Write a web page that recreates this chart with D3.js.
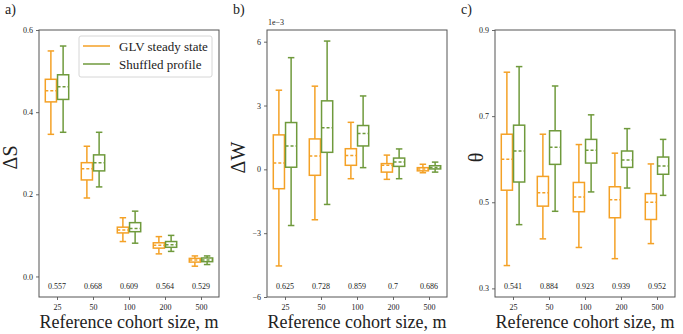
<!DOCTYPE html>
<html>
<head>
<meta charset="utf-8">
<script src="https://cdn.jsdelivr.net/npm/d3@7"></script>
<style>
  body { margin: 0; background: #fff; }
  text { font-family: "Liberation Serif", "DejaVu Serif", serif; fill: #222; }
</style>
</head>
<body>
<script>
// Categories and colours
const cohortSizes = ['25', '50', '100', '200', '500'];
const seriesNames = ['GLV steady state', 'Shuffled profile'];
const colors = ['#F4A126', '#6F9A3C'];

// Box stats per cohort size: [whiskerLow, q1, median, q3, whiskerHigh]
const dsSteady = [
    [0.346, 0.425, 0.452, 0.480, 0.549],
    [0.191, 0.235, 0.262, 0.277, 0.317],
    [0.085, 0.106, 0.113, 0.120, 0.143],
    [0.055, 0.069, 0.076, 0.082, 0.097],
    [0.025, 0.035, 0.040, 0.044, 0.050]
];
const dsShuffled = [
    [0.351, 0.431, 0.462, 0.491, 0.561],
    [0.218, 0.257, 0.277, 0.296, 0.351],
    [0.081, 0.109, 0.117, 0.131, 0.159],
    [0.061, 0.071, 0.077, 0.085, 0.100],
    [0.029, 0.036, 0.040, 0.045, 0.050]
];
// ΔW values in units of 1e-3
const dwSteady = [
    [-4.54, -0.91, 0.30, 1.62, 3.72],
    [-2.37, -0.28, 0.63, 1.43, 3.91],
    [-0.44, 0.19, 0.65, 0.97, 2.21],
    [-0.47, -0.13, 0.19, 0.27, 0.67],
    [-0.16, -0.07, 0.02, 0.08, 0.24]
];
const dwShuffled = [
    [-2.64, 0.10, 1.10, 2.20, 5.25],
    [-1.65, 0.80, 1.96, 3.22, 6.03],
    [0.08, 1.10, 1.68, 2.06, 3.45],
    [-0.44, 0.14, 0.34, 0.53, 0.96],
    [-0.13, 0.02, 0.09, 0.17, 0.34]
];
const thetaSteady = [
    [0.353, 0.528, 0.600, 0.658, 0.802],
    [0.415, 0.491, 0.522, 0.560, 0.658],
    [0.395, 0.478, 0.512, 0.546, 0.634],
    [0.369, 0.464, 0.506, 0.536, 0.614],
    [0.404, 0.460, 0.500, 0.520, 0.589]
];
const thetaShuffled = [
    [0.448, 0.547, 0.619, 0.679, 0.815],
    [0.479, 0.588, 0.628, 0.666, 0.770],
    [0.524, 0.591, 0.621, 0.646, 0.703],
    [0.533, 0.581, 0.598, 0.619, 0.671],
    [0.516, 0.565, 0.584, 0.605, 0.646]
];

// Numbers printed along the bottom of each panel
const dsNotes = ['0.557', '0.668', '0.609', '0.564', '0.529'];
const dwNotes = ['0.625', '0.728', '0.859', '0.7', '0.686'];
const thetaNotes = ['0.541', '0.884', '0.923', '0.939', '0.952'];

const panels = [
    { letter: 'a)', label: 'ΔS', labelX: -22, left: 39, domain: [-0.05, 0.6], ticks: [0, 0.2, 0.4, 0.6],
      fmt: d3.format('.1f'), data: [dsSteady, dsShuffled], notes: dsNotes, legend: true },
    { letter: 'b)', label: 'ΔW', labelX: -22, left: 267, domain: [-6, 6.55], ticks: [-6, -3, 0, 3, 6],
      fmt: d3.format('d'), data: [dwSteady, dwShuffled], notes: dwNotes, offset: '1e\u22123' },
    { letter: 'c)', label: 'θ', labelX: -12, left: 495, domain: [0.28, 0.9], ticks: [0.3, 0.5, 0.7, 0.9],
      fmt: d3.format('.1f'), data: [thetaSteady, thetaShuffled], notes: thetaNotes }
];

const width = 683;
const height = 334;
const plotW = 180;
const plotTop = 30;
const plotBottom = 297;

const svg = d3.select('body').append('svg')
    .attr('width', width)
    .attr('height', height);

panels.forEach(p => {
    const g = svg.append('g').attr('transform', `translate(${p.left},0)`);

    const x = d3.scaleLinear().domain([0.5, 5.5]).range([0, plotW]);
    const y = d3.scaleLinear().domain(p.domain).range([plotBottom, plotTop]);

    // Axes
    const xAxis = g.append('g')
        .attr('transform', `translate(0,${plotBottom})`)
        .call(d3.axisBottom(x).tickValues([1, 2, 3, 4, 5])
            .tickFormat((d, i) => cohortSizes[i]).tickSize(3).tickPadding(4));
    const yAxis = g.append('g')
        .call(d3.axisLeft(y).tickValues(p.ticks).tickFormat(p.fmt).tickSize(3).tickPadding(3));
    [xAxis, yAxis].forEach(a => {
        a.select('.domain').remove();
        a.selectAll('line').attr('stroke', '#444').attr('stroke-width', 0.8);
        a.selectAll('text').style('font-size', '8px').style('font-family', '"Liberation Serif", serif').attr('fill', '#333');
    });

    // Frame
    g.append('rect')
        .attr('x', 0).attr('y', plotTop)
        .attr('width', plotW).attr('height', plotBottom - plotTop)
        .attr('fill', 'none').attr('stroke', '#555').attr('stroke-width', 1);

    // Boxplots
    const boxW = 0.31;
    const capW = 0.18;
    p.data.forEach((series, s) => {
        const shift = s === 0 ? -0.17 : 0.17;
        const col = colors[s];
        const bg = g.append('g').attr('stroke', col).attr('stroke-width', 1.5).attr('fill', 'none');
        series.forEach((st, i) => {
            const cx = i + 1 + shift;
            const [lo, q1, med, q3, hi] = st;
            // whiskers
            bg.append('line').attr('x1', x(cx)).attr('x2', x(cx)).attr('y1', y(lo)).attr('y2', y(q1));
            bg.append('line').attr('x1', x(cx)).attr('x2', x(cx)).attr('y1', y(q3)).attr('y2', y(hi));
            // caps
            bg.append('line').attr('x1', x(cx - capW / 2)).attr('x2', x(cx + capW / 2)).attr('y1', y(lo)).attr('y2', y(lo));
            bg.append('line').attr('x1', x(cx - capW / 2)).attr('x2', x(cx + capW / 2)).attr('y1', y(hi)).attr('y2', y(hi));
            // box
            bg.append('rect')
                .attr('x', x(cx - boxW / 2)).attr('y', y(q3))
                .attr('width', x(cx + boxW / 2) - x(cx - boxW / 2))
                .attr('height', y(q1) - y(q3));
            // median, dashed
            bg.append('line')
                .attr('x1', x(cx - boxW / 2)).attr('x2', x(cx + boxW / 2))
                .attr('y1', y(med)).attr('y2', y(med))
                .attr('stroke-dasharray', '3,2');
        });
    });

    // Notes under the boxes
    g.selectAll('text.note')
        .data(p.notes)
        .enter()
        .append('text')
        .attr('class', 'note')
        .attr('x', (d, i) => x(i + 1))
        .attr('y', 289)
        .attr('text-anchor', 'middle')
        .style('font-size', '8px')
        .text(d => d);

    // Axis labels
    g.append('text')
        .attr('x', plotW / 2)
        .attr('y', 328)
        .attr('text-anchor', 'middle')
        .style('font-size', '18px')
        .text('Reference cohort size, m');

    g.append('text')
        .attr('transform', `translate(${p.labelX},${(plotTop + plotBottom) / 2 - 6}) rotate(-90)`)
        .attr('text-anchor', 'middle')
        .style('font-size', '20px')
        .text(p.label);

    // Panel letter
    g.append('text')
        .attr('x', -34)
        .attr('y', 14)
        .style('font-size', '14px')
        .text(p.letter);

    if (p.offset) {
        g.append('text')
            .attr('x', 1)
            .attr('y', 25)
            .style('font-size', '8px')
            .text(p.offset);
    }

    // Legend
    if (p.legend) {
        const lg = g.append('g').attr('transform', 'translate(40,36)');
        lg.append('rect')
            .attr('width', 133).attr('height', 41).attr('rx', 2)
            .attr('fill', '#fff').attr('stroke', '#d6d6d6').attr('stroke-width', 1);
        seriesNames.forEach((name, i) => {
            lg.append('line')
                .attr('x1', 4).attr('x2', 31)
                .attr('y1', 10 + i * 18).attr('y2', 10 + i * 18)
                .attr('stroke', colors[i]).attr('stroke-width', 1.5);
            lg.append('text')
                .attr('x', 40)
                .attr('y', 14.5 + i * 18)
                .style('font-size', '13px')
                .text(name);
        });
    }
});
</script>
</body>
</html>
